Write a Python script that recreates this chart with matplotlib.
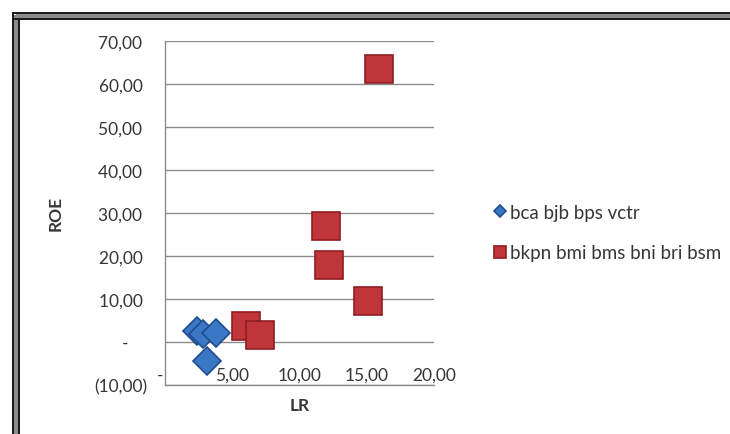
import matplotlib
matplotlib.use("Agg")
import matplotlib.pyplot as plt
from matplotlib.lines import Line2D

plt.rcParams['font.family'] = ['Lato', 'DejaVu Sans']

# ---- data ----
series1_name = "bca bjb bps vctr"
series1_lr = [2.4, 2.8, 3.8, 3.1]
series1_roe = [2.6, 1.8, 2.2, -4.4]

series2_name = "bkpn bmi bms bni bri bsm"
series2_lr = [15.9, 12.0, 12.2, 15.1, 6.0, 7.1]
series2_roe = [63.5, 26.9, 18.0, 9.6, 3.8, 1.6]

x_ticks = [0, 5, 10, 15, 20]
x_ticklabels = ["-  ", "5,00", "10,00", "15,00", "20,00"]
y_ticks = [-10, 0, 10, 20, 30, 40, 50, 60, 70]
y_ticklabels = ["(10,00)", "-    ", "10,00 ", "20,00 ", "30,00 ", "40,00 ",
                "50,00 ", "60,00 ", "70,00 "]

W, H = 730, 435
fig = plt.figure(figsize=(W / 100, H / 100), dpi=100)
fig.patch.set_facecolor("white")

ax = fig.add_axes([165 / W, 1 - 386 / H, (434 - 165) / W, (386 - 42) / H])
ax.set_facecolor("none")
ax.set_xlim(0, 20)
ax.set_ylim(-10, 70)

grid_c = "#8c8c8c"
ax.set_yticks(y_ticks)
ax.set_yticklabels(y_ticklabels)
ax.set_xticks(x_ticks)
ax.set_xticklabels(x_ticklabels)
ax.yaxis.grid(True, color=grid_c, linewidth=1.0)
ax.set_axisbelow(True)
for s in ["top", "right"]:
    ax.spines[s].set_visible(False)
for s in ["left", "bottom"]:
    ax.spines[s].set_color(grid_c)
    ax.spines[s].set_linewidth(1.0)

txt_c = "#363636"
tick_fs = 12.5
ax.tick_params(axis="y", length=0, pad=13, labelsize=tick_fs, labelcolor=txt_c)
ax.tick_params(axis="x", length=0, pad=-13, labelsize=tick_fs, labelcolor=txt_c)

ax.plot(series2_lr, series2_roe, linestyle="none", marker="s", markersize=20,
        markerfacecolor="#C0353A", markeredgecolor="#8E1E22", markeredgewidth=1.2,
        label=series2_name, zorder=3)
ax.plot(series1_lr, series1_roe, linestyle="none", marker="D", markersize=14.5,
        markerfacecolor="#3A78C6", markeredgecolor="#1F4E8C", markeredgewidth=1.2,
        label=series1_name, zorder=4)

handles, labels = ax.get_legend_handles_labels()
leg = fig.legend(handles[::-1], labels[::-1], loc="upper left",
                 bbox_to_anchor=(495 / W, 1 - 205 / H), frameon=False,
                 fontsize=13.5, markerscale=0.45, handlelength=0.5,
                 handletextpad=0.3, labelspacing=1.25, borderpad=0, borderaxespad=0)
for t in leg.get_texts():
    t.set_color(txt_c)

ax.set_ylabel("ROE", fontsize=12.5, fontweight="bold", color=txt_c, labelpad=0)
ax.yaxis.set_label_coords(64 / W, 1 - 213 / H, transform=fig.transFigure)
ax.set_xlabel("LR", fontsize=12.5, fontweight="bold", color=txt_c)
ax.xaxis.set_label_coords(300 / W, 1 - 398 / H, transform=fig.transFigure)

# double frame border (top and left)
def px(x, y):
    return x / W, 1 - y / H

for (x0, y0, x1, y1) in [(16, 16.5, W, 16.5), (15.5, 16, 15.5, H)]:
    fig.add_artist(Line2D([px(x0, y0)[0], px(x1, y1)[0]], [px(x0, y0)[1], px(x1, y1)[1]],
                          color="#8a8a8a", linewidth=5.5, solid_capstyle="butt"))
for (x0, y0, x1, y1) in [(13, 13.5, W, 13.5), (13, 19.5, W, 19.5),
                         (13, 13, 13, H), (18.5, 19, 18.5, H)]:
    fig.add_artist(Line2D([px(x0, y0)[0], px(x1, y1)[0]], [px(x0, y0)[1], px(x1, y1)[1]],
                          color="#1a1a1a", linewidth=1.4, solid_capstyle="butt"))

fig.savefig("out.png", dpi=100)
